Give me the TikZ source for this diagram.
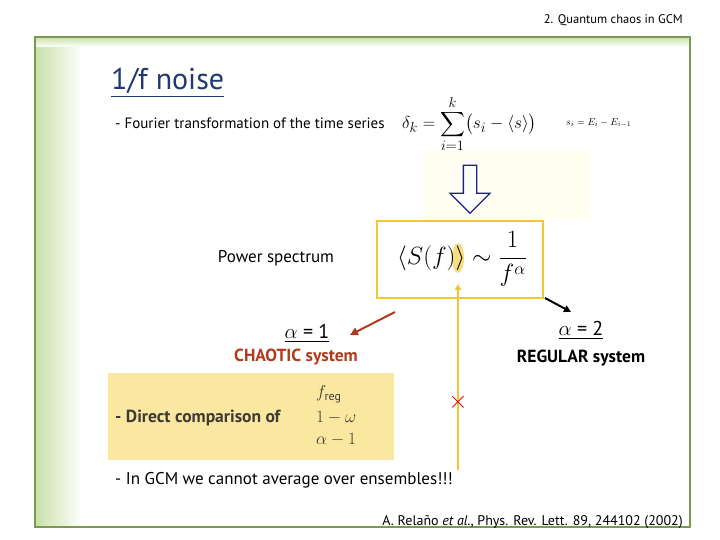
\documentclass[tikz,border=0pt]{standalone}
\usepackage{fontspec}
\setmainfont{PT Sans}
\usepackage{amsmath}
\usetikzlibrary{arrows.meta,shapes.arrows}
\definecolor{frameg}{HTML}{7A9A50}
\definecolor{lightg}{HTML}{C8E0A8}
\definecolor{ybox}{HTML}{F2C830}
\definecolor{yfill}{HTML}{FBE8A0}
\definecolor{brownr}{HTML}{B03A1C}
\definecolor{navy}{HTML}{1A237E}
\definecolor{titleb}{HTML}{1F3A70}
\begin{document}
\begin{tikzpicture}[x=1pt,y=-1pt,
  txt/.style={inner sep=0pt,font=\fontsize{17}{20}\selectfont},
  btxt/.style={inner sep=0pt,font=\fontsize{17.5}{20}\selectfont\bfseries}]
\useasboundingbox (0,0) rectangle (720,540);
\fill[white] (0,0) rectangle (720,540);
% frame
\shade[left color=lightg,right color=white] (35,37) rectangle (82,527);
\shade[top color=lightg,bottom color=white] (35,37) rectangle (690,47);
\draw[frameg,line width=1.5pt] (35,37) rectangle (690,527);
\node[txt,anchor=east,font=\fontsize{12.5}{14}\selectfont] (hdr) at (683,20) {2. Quantum chaos in GCM};
% title
\node[inner sep=0pt,anchor=west,text=titleb,font=\fontsize{30}{34}\selectfont] (title) at (111,83) {\underline{1/f noise}};
\node[txt,anchor=west,font=\fontsize{15}{17}\selectfont] (four) at (115,123) {- Fourier transformation of the time series};
\node[inner sep=0pt,anchor=west,font=\fontsize{19}{22}\selectfont] (delta) at (402,124) {$\delta_k=\displaystyle\sum_{i=1}^{k}\bigl(s_i-\langle s\rangle\bigr)$};
\node[inner sep=0pt,anchor=west,font=\fontsize{10}{12}\selectfont] (sdef) at (566,123) {$s_i=E_i-E_{i-1}$};
\fill[yellow!6] (425,150) rectangle (590,220);
\node[single arrow,shape border rotate=270,draw=navy,line width=1.3pt,fill=white,minimum height=48pt,minimum width=40pt,single arrow head extend=8pt] (barr) at (470,186) {};
% power spectrum box
\node[draw=ybox,line width=2pt,minimum width=166pt,minimum height=77pt] (ps) at (460,259.5) {};
\fill[ybox!60] (458,258) ellipse (6pt and 15pt);
\node[inner sep=0pt,font=\fontsize{25}{28}\selectfont] (psf) at (462,259) {$\langle S(f)\rangle\sim\dfrac{1}{f^{\alpha}}$};
\node[txt] (pslab) at (276,258) {Power spectrum};
% vertical yellow line
\coordinate (vb) at (458,470);
\coordinate (vt) at (458,284);
\draw[ybox,line width=1.5pt,-{Triangle[length=6pt,width=6pt]}] (vb) -- (vt);
\node[text=red!85!black,font=\fontsize{30}{30}\selectfont,inner sep=0pt] (x) at (458,402) {$\times$};
% arrows
\coordinate (ba1) at (395,312); \coordinate (ba2) at (350,335);
\draw[brownr,line width=2pt,-{Triangle[length=8pt,width=8pt]}] (ba1) -- (ba2);
\coordinate (ka1) at (545,298); \coordinate (ka2) at (571,312);
\draw[black,line width=2pt,-{Triangle[length=7pt,width=7pt]}] (ka1) -- (ka2);
% labels
\node[txt,font=\fontsize{20}{22}\selectfont] (a1) at (307,333) {\underline{$\alpha$ = 1}};
\node[btxt,text=brownr] (chaos) at (296,357) {CHAOTIC system};
\node[txt,font=\fontsize{20}{22}\selectfont] (a2) at (581,330) {\underline{$\alpha$ = 2}};
\node[btxt] (reg) at (581,358) {REGULAR system};
% direct comparison box
\fill[yfill] (108,373) rectangle (394,460);
\node[btxt,anchor=west,text=black!80!yellow!60!black] (dc) at (115,418) {- Direct comparison of};
\node[inner sep=0pt,text=black!70!yellow!40!black,anchor=west,font=\fontsize{17}{19}\selectfont] (dcf1) at (316,394) {$f_{\mathrm{reg}}$};
\node[inner sep=0pt,text=black!70!yellow!40!black,anchor=west,font=\fontsize{19}{21}\selectfont] (dcf2) at (316,418) {$1-\omega$};
\node[inner sep=0pt,text=black!70!yellow!40!black,anchor=west,font=\fontsize{19}{21}\selectfont] (dcf3) at (316,440) {$\alpha-1$};
\node[txt,anchor=west] (gcm) at (115,480) {- In GCM we cannot average over ensembles!!!};
\node[txt,anchor=east,font=\fontsize{14}{16}\selectfont] (cite) at (683,522) {A. Relaño \emph{et al.}, Phys. Rev. Lett. 89, 244102 (2002)};
\end{tikzpicture}
\end{document}
